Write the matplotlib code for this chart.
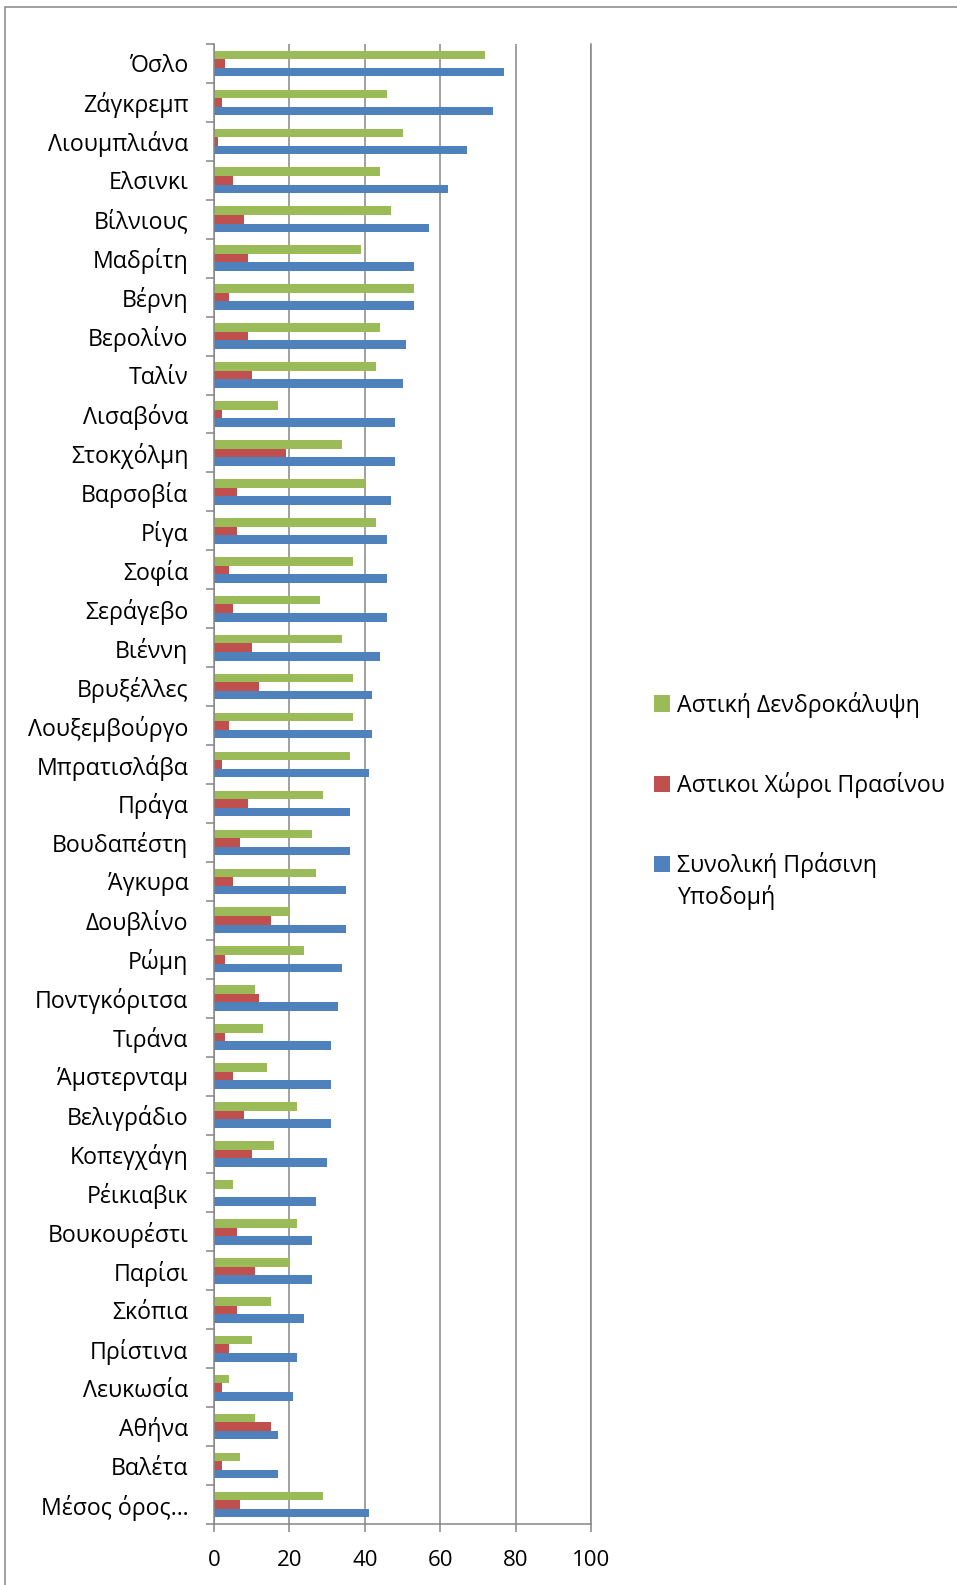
import matplotlib
matplotlib.use('Agg')
import matplotlib.pyplot as plt
import numpy as np
from matplotlib.patches import Rectangle

cities = ["Όσλο", "Ζάγκρεμπ", "Λιουμπλιάνα", "Ελσινκι", "Βίλνιους", "Μαδρίτη",
          "Βέρνη", "Βερολίνο", "Ταλίν", "Λισαβόνα", "Στοκχόλμη", "Βαρσοβία",
          "Ρίγα", "Σοφία", "Σεράγεβο", "Βιέννη", "Βρυξέλλες", "Λουξεμβούργο",
          "Μπρατισλάβα", "Πράγα", "Βουδαπέστη", "Άγκυρα", "Δουβλίνο", "Ρώμη",
          "Ποντγκόριτσα", "Τιράνα", "Άμστερνταμ", "Βελιγράδιο", "Κοπεγχάγη",
          "Ρέικιαβικ", "Βουκουρέστι", "Παρίσι", "Σκόπια", "Πρίστινα",
          "Λευκωσία", "Αθήνα", "Βαλέτα", "Μέσος όρος…"]

tree_cover = [72, 46, 50, 44, 47, 39, 53, 44, 43, 17, 34, 40, 43, 37, 28, 34,
              37, 37, 36, 29, 26, 27, 20, 24, 11, 13, 14, 22, 16, 5, 22, 20,
              15, 10, 4, 11, 7, 29]
green_spaces = [3, 2, 1, 5, 8, 9, 4, 9, 10, 2, 19, 6, 6, 4, 5, 10, 12, 4, 2, 9,
                7, 5, 15, 3, 12, 3, 5, 8, 10, 0, 6, 11, 6, 4, 2, 15, 2, 7]
total_green = [77, 74, 67, 62, 57, 53, 53, 51, 50, 48, 48, 47, 46, 46, 46, 44,
               42, 42, 41, 36, 36, 35, 35, 34, 33, 31, 31, 31, 30, 27, 26, 26,
               24, 22, 21, 17, 17, 41]

series_labels = ["Αστική Δενδροκάλυψη", "Αστικοι Χώροι Πρασίνου", "Συνολική Πράσινη"]
series_label_line2 = "Υποδομή"
x_ticks = [0, 20, 40, 60, 80, 100]

plt.rcParams['font.family'] = ['Open Sans', 'DejaVu Sans']

W, H = 957, 1585
fig = plt.figure(figsize=(W / 100, H / 100), dpi=100)
ax = fig.add_axes([214 / W, 1 - 1524 / H, (591 - 214) / W, (1524 - 44) / H])

grey = '#868686'
y = np.arange(len(cities))
h = 0.22
b1 = ax.barh(y - h, tree_cover, height=h, color='#9BBB59')
b2 = ax.barh(y, green_spaces, height=h, color='#C0504D')
b3 = ax.barh(y + h, total_green, height=h, color='#4F81BD')

ax.set_ylim(len(cities) - 0.5, -0.5)
ax.set_xlim(0, 100)
ax.set_xticks(x_ticks)
ax.set_yticks(y)
ax.set_yticklabels(cities)
ax.set_yticks(np.arange(-0.5, len(cities)), minor=True)
ax.tick_params(axis='y', which='major', length=0, pad=18.5, labelsize=16.7)
ax.tick_params(axis='y', which='minor', length=5.8, width=1.1, color=grey)
ax.tick_params(axis='x', length=5.8, width=1.1, color=grey, pad=13, labelsize=16)
ax.grid(axis='x', color=grey, lw=1.1)
ax.set_axisbelow(True)
ax.spines['top'].set_visible(False)
for s in ['left', 'bottom', 'right']:
    ax.spines[s].set_color(grey)
    ax.spines[s].set_linewidth(1.1)

# outer chart border
fig.add_artist(Rectangle((5 / W, -0.1), 1.2, (H - 7) / H + 0.1,
                         transform=fig.transFigure, fill=False,
                         edgecolor=grey, lw=1.1))

leg = ax.legend(handles=[b1, b2, b3], labels=series_labels,
                loc='center left', bbox_to_anchor=(654 / W, 1 - 785 / H),
                bbox_transform=fig.transFigure, frameon=False, fontsize=16.7,
                handlelength=0.7, handleheight=0.7, handletextpad=0.3,
                labelspacing=2.34, borderpad=0, borderaxespad=0)

fig.canvas.draw()
bb = leg.get_texts()[2].get_window_extent()
fig.text(bb.x0 / W, (bb.y0 + bb.y1) / 2 / H - 32 / H, series_label_line2,
         fontsize=16.7, va='center', ha='left')

fig.savefig('out.png', dpi=100)
